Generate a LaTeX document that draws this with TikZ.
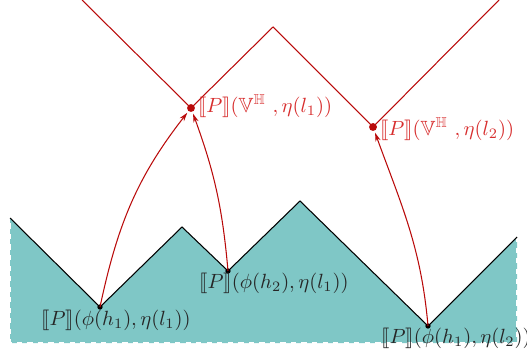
\documentclass[tikz,border=0pt]{standalone}
\usepackage{amssymb}
\usepackage{stmaryrd}
\usetikzlibrary{arrows.meta}
\definecolor{linered}{RGB}{185,10,10}
\definecolor{textred}{RGB}{215,45,45}
\definecolor{tealfill}{RGB}{127,199,198}
\newcommand{\bigtxt}[1]{\scalebox{1.17}{#1}}
\tikzset{
  redline/.style={draw=linered, line width=0.6pt},
  blackline/.style={draw=black, line width=0.6pt},
  conn/.style={draw=linered, line width=0.6pt, -{Stealth[length=5pt,width=3pt]}, shorten >=1pt},
  rdot/.style={circle, fill=linered, inner sep=0pt, minimum size=4.5pt},
  bdot/.style={circle, fill=black, inner sep=0pt, minimum size=3pt},
  rlabel/.style={text=textred, inner sep=1pt},
  blabel/.style={text=black!85, inner sep=1pt}
}
\begin{document}
\begin{tikzpicture}[x=0.02cm, y=-0.02cm]
\useasboundingbox (0,0) rectangle (527,351);
% teal region
\fill[tealfill] (10,218) -- (100,307) -- (182,227) -- (228,271) -- (300,201) -- (428,326) -- (517,237) -- (517,343) -- (10,343) -- cycle;
\draw[white, dashed, line width=0.8pt] (517,237) -- (517,343) -- (10,343) -- (10,218);
\draw[blackline] (10,218) -- (100,307) -- (182,227) -- (228,271) -- (300,201) -- (428,326) -- (517,237);
% red zigzag
\draw[redline] (82,0) -- (191,108) -- (273,27) -- (373,127) -- (499,0);
% points
\node[rdot] (v1) at (191,108) {};
\node[rdot] (v2) at (373,127) {};
\node[bdot] (a) at (100,307) {};
\node[bdot] (b) at (228,271) {};
\node[bdot] (c) at (428,326) {};
% labels
\node[rlabel, anchor=west] (lv1) at (196,106) {\bigtxt{$\llbracket P\rrbracket(\mathbb{V}^{\mathbb{H}}\ ,\eta(l_1))$}};
\node[rlabel, anchor=west] (lv2) at (378,129) {\bigtxt{$\llbracket P\rrbracket(\mathbb{V}^{\mathbb{H}}\ ,\eta(l_2))$}};
\node[blabel, anchor=center] (lb) at (274,283) {\bigtxt{$\llbracket P\rrbracket(\phi(h_2),\eta(l_1))$}};
\node[blabel, anchor=center] (la) at (116,320) {\bigtxt{$\llbracket P\rrbracket(\phi(h_1),\eta(l_1))$}};
\node[blabel, anchor=center] (lc) at (456,338) {\bigtxt{$\llbracket P\rrbracket(\phi(h_1),\eta(l_2))$}};
% connectors
\draw[conn] (a.center) to[out=78, in=-128] (v1);
\draw[conn] (b.center) to[out=95, in=-70] (v1);
\draw[conn] (c.center) to[out=95, in=-70] (v2);
\end{tikzpicture}
\end{document}
